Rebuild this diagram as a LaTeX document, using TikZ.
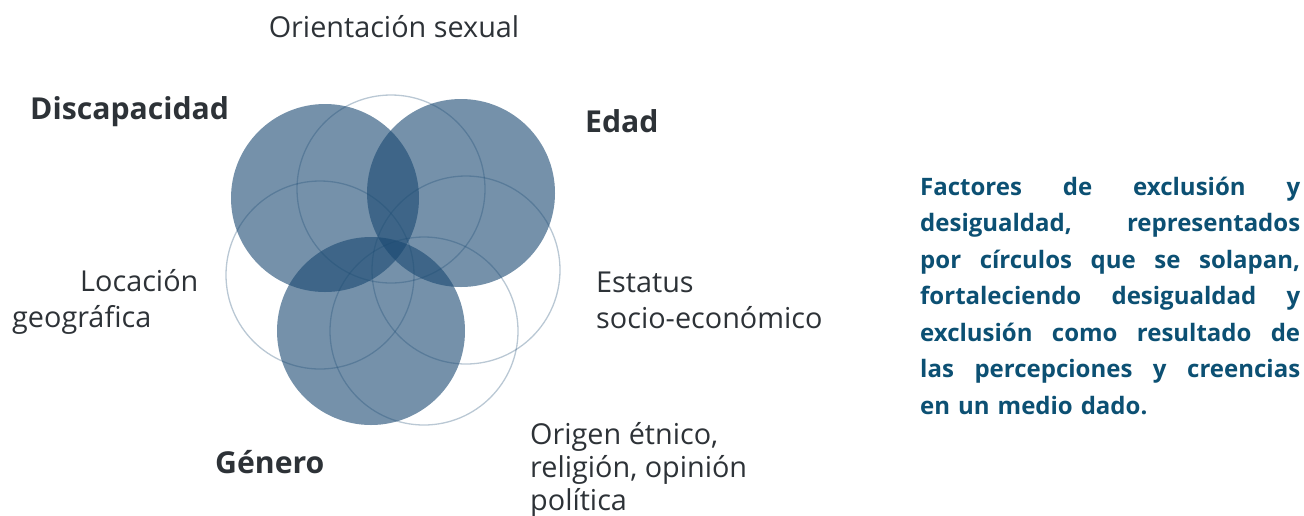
\documentclass[tikz,border=0pt]{standalone}
\usepackage{fontspec}
\setmainfont{Open Sans}
\usetikzlibrary{positioning}

\definecolor{venn}{RGB}{25,72,113}
\definecolor{labelgray}{RGB}{45,50,55}
\definecolor{parablue}{RGB}{12,80,115}
\newcommand{\fullline}[1]{\makebox[380pt][s]{\spaceskip=0pt\xspaceskip=0pt\relax #1}}

\tikzset{
  factor/.style={circle, inner sep=0pt, minimum size=188pt, fill=venn, fill opacity=0.6},
  ring/.style={circle, inner sep=0pt, minimum size=188pt, draw=venn, draw opacity=0.3, line width=1.3pt},
  lbl/.style={text=labelgray, inner sep=0pt, align=left, font=\fontsize{28.8}{36}\selectfont},
  boldlbl/.style={lbl, font=\fontsize{30.2}{36}\selectfont\bfseries},
}

\begin{document}
\begin{tikzpicture}[x=1pt,y=-1pt]
  \useasboundingbox (0,0) rectangle (1304,515);
  % filled factors
  \node [factor] (disc) at (325,198) {};
  \node [factor] (edad) at (461,193) {};
  \node [factor] (gen) at (371,331) {};
  % outline factors
  \node [ring] (orient) at (391,189) {};
  \node [ring] (loc) at (320,275) {};
  \node [ring] (estat) at (466,270) {};
  \node [ring] (orig) at (424,331) {};
  % labels
  \node [lbl, anchor=base] (orientlbl) at (394,37) {Orientación sexual};
  \node [boldlbl, anchor=base west] (disclbl) at (30,119) {Discapacidad};
  \node [boldlbl, anchor=base west] (edadlbl) at (585,132) {Edad};
  \node [lbl, anchor=base west] (loclbl) at (12,327) {\hspace*{68pt}Locación\\geográfica};
  \node [lbl, anchor=base west] (estatlbl) at (596,328) {Estatus\\socio-económico};
  \node [boldlbl, anchor=base west] (genlbl) at (215,473) {Género};
  \node [lbl, anchor=base west, font=\fontsize{28.8}{33}\selectfont] (origlbl) at (530,510) {Origen étnico,\\religión, opinión\\política};
  % description
  \node [anchor=base west, inner sep=0pt, text width=380pt, align=left, text=parablue,
         font=\fontsize{24}{36.5}\selectfont\bfseries] (desc) at (920,195)
    {\fullline{Factores de exclusión y}\\
     \fullline{desigualdad, representados}\\
     \fullline{por círculos que se solapan,}\\
     \fullline{fortaleciendo desigualdad y}\\
     \fullline{exclusión como resultado de}\\
     \fullline{las percepciones y creencias}\\
     en un medio dado.};
\end{tikzpicture}
\end{document}
